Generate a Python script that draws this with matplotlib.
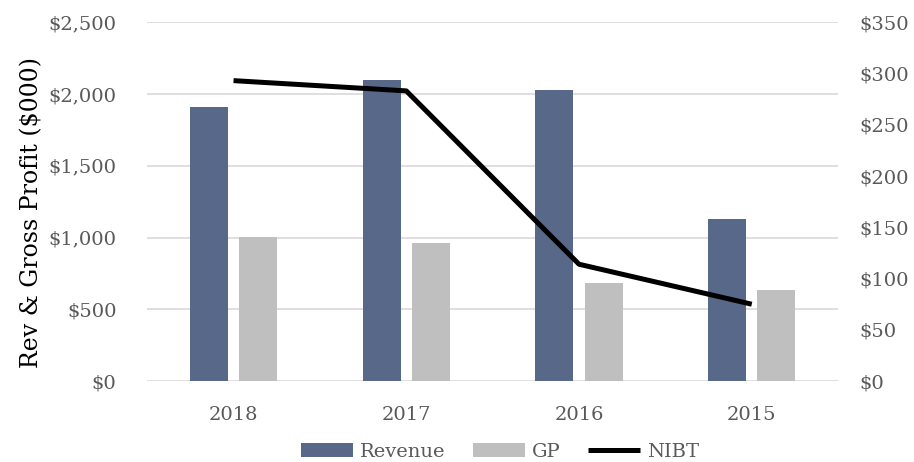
import numpy as np
import matplotlib.pyplot as plt

years = ["2018", "2017", "2016", "2015"]
revenue = [1910, 2095, 2025, 1130]
gp = [1003, 962, 685, 636]
nibt = [293, 283, 114, 75]

plt.rcParams['font.family'] = ['DejaVu Serif']
txt = '#595959'

fig = plt.figure(figsize=(9.14, 4.62), dpi=100)
ax = fig.add_axes([0.161, 0.175, 0.756, 0.777])
ax2 = ax.twinx()

x = np.arange(len(years))
w = 0.22
ax.bar(x - 0.143, revenue, w, color='#586889', label='Revenue', zorder=2)
ax.bar(x + 0.143, gp, w, color='#bfbfbf', label='GP', zorder=2)
ax2.plot(x, nibt, color='black', lw=3.6, label='NIBT', solid_capstyle='butt')

ax.set_xlim(-0.5, 3.5)
ax.set_ylim(0, 2500)
ax2.set_ylim(0, 350)
ax.set_yticks(np.arange(0, 2501, 500))
ax2.set_yticks(np.arange(0, 351, 50))
ax.set_yticklabels(['${:,}'.format(v) for v in range(0, 2501, 500)])
ax2.set_yticklabels(['${}'.format(v) for v in range(0, 351, 50)])
ax.set_xticks(x)
ax.set_xticklabels(years)

ax.grid(axis='y', color='#d9d9d9', lw=1.2, zorder=0)
ax.set_axisbelow(True)
for a in (ax, ax2):
    for s in a.spines.values():
        s.set_visible(False)
    a.tick_params(length=0, labelsize=14, colors=txt)
ax.tick_params(axis='y', pad=22)
ax2.tick_params(axis='y', pad=15)
ax.tick_params(axis='x', pad=18)

ax.set_ylabel('Rev & Gross Profit ($000)', fontsize=17, color='black')
ax.yaxis.set_label_coords(-0.150, 0.47)

h1, l1 = ax.get_legend_handles_labels()
h2, l2 = ax2.get_legend_handles_labels()
fig.legend(h1 + h2, l1 + l2, loc='lower center', bbox_to_anchor=(0.547, -0.035),
           ncol=3, frameon=False, fontsize=14, labelcolor=txt,
           handlelength=2.7, handleheight=0.7, handletextpad=0.35, columnspacing=1.4)

fig.savefig('out.png', dpi=100)
